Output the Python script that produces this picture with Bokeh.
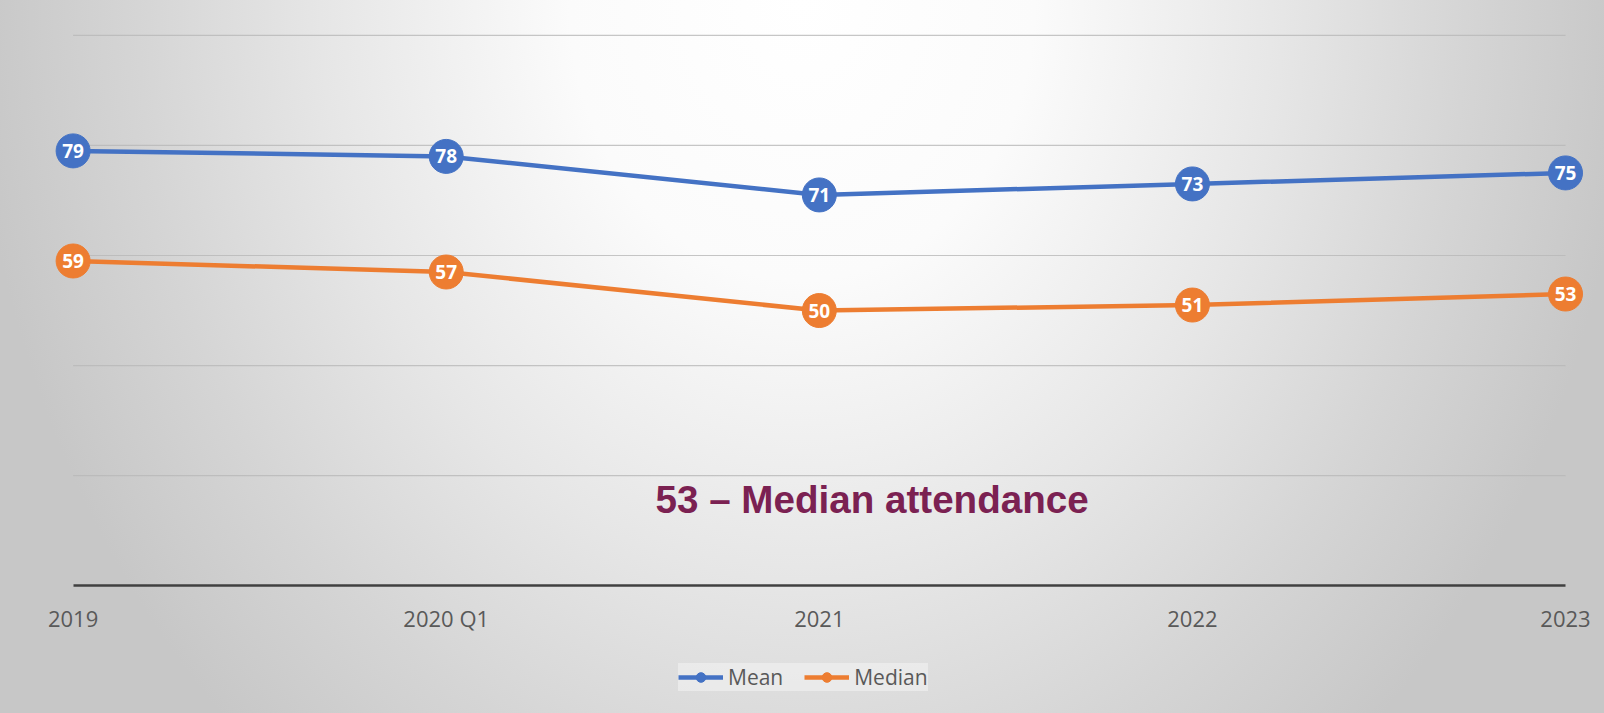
from bokeh.plotting import figure
from bokeh.models import FixedTicker, Legend, LegendItem, Label
from bokeh.core.properties import value
from bokeh.embed import file_html
from bokeh.resources import INLINE

categories = ["2019", "2020 Q1", "2021", "2022", "2023"]
mean_values = [79, 78, 71, 73, 75]
median_values = [59, 57, 50, 51, 53]
y_ticks = [20, 40, 60, 80, 100]
annotation_text = "53 \u2013 Median attendance"

BLUE = "#4472C4"
ORANGE = "#ED7D31"

xs = list(range(len(categories)))
last = len(categories) - 1

p = figure(width=1604, height=713, output_backend="svg", toolbar_location=None,
           x_range=(-0.1946, last + 0.1045), y_range=(-23.2, 106.32),
           min_border=0)

p.background_fill_color = None
p.border_fill_color = None
p.outline_line_color = None
p.styles = {"background": "radial-gradient(ellipse 830px 1000px at 50% 0%, #ffffff 0%, #fbfbfb 28%, #e6e6e6 58%, #d5d5d5 80%, #c7c7c7 100%)"}

# axes
p.yaxis.visible = False
p.xaxis.fixed_location = 0
p.xaxis.bounds = (0, last)
p.xaxis.ticker = FixedTicker(ticks=xs)
p.xaxis.major_label_overrides = {i: c for i, c in zip(xs, categories)}
p.xaxis.major_tick_line_color = None
p.xaxis.minor_tick_line_color = None
p.xaxis.major_label_standoff = 11
p.xaxis.major_label_text_font = "Open Sans"
p.xaxis.major_label_text_font_size = "22px"
p.xaxis.major_label_text_color = "#595959"
p.xaxis.axis_line_color = "#404040"
p.xaxis.axis_line_width = 2.5

p.xgrid.visible = False
p.ygrid.visible = False

# horizontal gridlines spanning the category extent
p.segment(x0=[0] * len(y_ticks), x1=[last] * len(y_ticks), y0=y_ticks, y1=y_ticks,
          line_color="#b8b8b8", line_alpha=0.8, line_width=1.2)

# series
l1 = p.line(xs, mean_values, line_color=BLUE, line_width=4.5)
s1 = p.scatter(xs, mean_values, size=34, fill_color=BLUE, line_color=BLUE)
l2 = p.line(xs, median_values, line_color=ORANGE, line_width=4.5)
s2 = p.scatter(xs, median_values, size=34, fill_color=ORANGE, line_color=ORANGE)

p.text(xs, mean_values, text=[str(v) for v in mean_values], text_color="white",
       text_font=value("Open Sans"), text_font_style="bold", text_font_size="19px",
       text_align="center", text_baseline="middle")
p.text(xs, median_values, text=[str(v) for v in median_values], text_color="white",
       text_font=value("Open Sans"), text_font_style="bold", text_font_size="19px",
       text_align="center", text_baseline="middle")

legend = Legend(items=[LegendItem(label="Mean", renderers=[l1, s1]),
                       LegendItem(label="Median", renderers=[l2, s2])],
                location=(678, 22), orientation="horizontal",
                label_text_font="Open Sans", label_text_font_size="21px",
                label_text_color="#595959", glyph_width=45, glyph_height=24,
                label_height=24, label_standoff=5, spacing=21, padding=10,
                margin=0,
                background_fill_color="#f4f4f4", background_fill_alpha=0.55,
                border_line_color=None)
p.add_layout(legend, "center")

p.add_layout(Label(x=2.1415, y=15.7, text=annotation_text, text_align="center",
                   text_baseline="alphabetic", text_font="Liberation Sans",
                   text_font_style="bold", text_font_size="38.6px",
                   text_color="#7b2152"))

open("out.html", "w").write(file_html(p, INLINE))
